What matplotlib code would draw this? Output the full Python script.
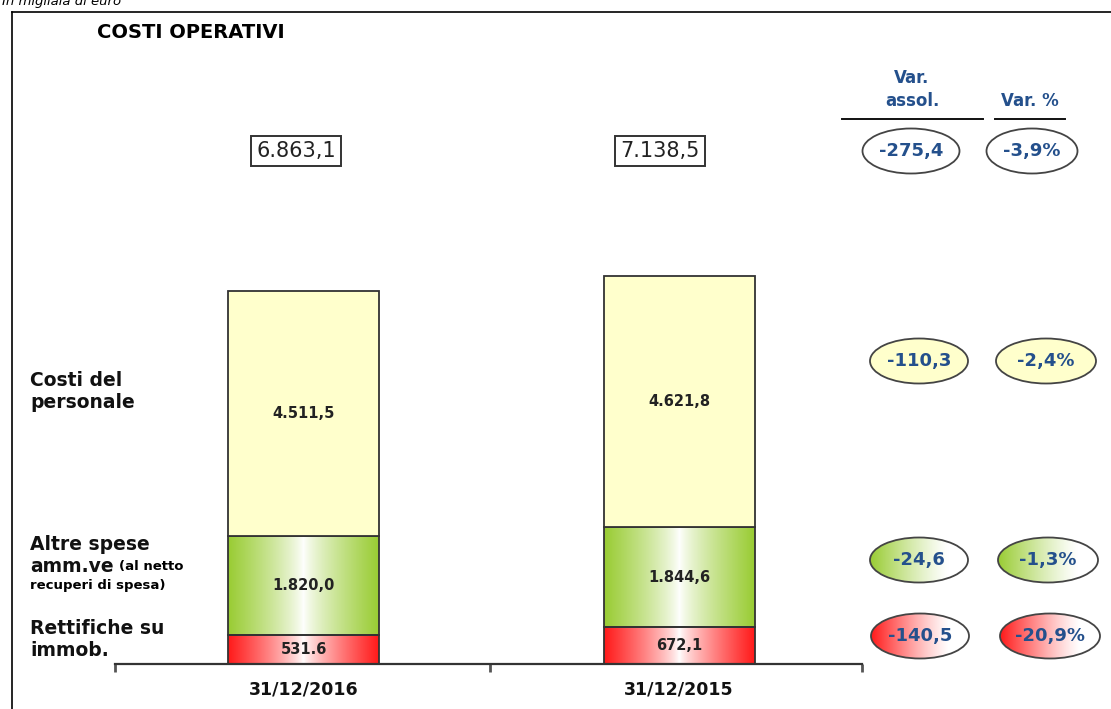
import numpy as np
import matplotlib.pyplot as plt
from matplotlib.patches import Ellipse

plt.rcParams['font.family'] = ['DejaVu Sans']

# data
periods = ['31/12/2016', '31/12/2015']
rettifiche = [531.6, 672.1]
altre_spese = [1820.0, 1844.6]
personale = [4511.5, 4621.8]
totals = ['6.863,1', '7.138,5']
rett_labels = ['531.6', '672,1']
altre_labels = ['1.820,0', '1.844,6']
pers_labels = ['4.511,5', '4.621,8']

var_assol = ['-275,4', '-110,3', '-24,6', '-140,5']
var_perc = ['-3,9%', '-2,4%', '-1,3%', '-20,9%']

navy = '#24508c'
yellow = '#ffffcc'
green = '#99cc33'
red = '#ff1a1a'

fig = plt.figure(figsize=(11.11, 7.09), dpi=100)
W, H = 1111, 709

# main bar axes
ax = fig.add_axes([115 / W, (H - 664) / H, 747 / W, 652 / H])
x = np.arange(len(periods))
bw = 0.402


def grad_fill(axis, patch, c_edge):
    x0, y0 = patch.get_x(), patch.get_y()
    w, h = patch.get_width(), patch.get_height()
    t = np.linspace(0, 1, 256)
    f = (np.abs(t - 0.5) * 2) ** 0.8
    ce = np.array(plt.matplotlib.colors.to_rgb(c_edge))
    img = (1 - f)[:, None] * np.ones(3) + f[:, None] * ce
    im = axis.imshow(img[None, :, :], extent=[x0, x0 + w, y0, y0 + h],
                     aspect='auto', zorder=2, interpolation='bilinear')
    im.set_clip_path(patch)


bars_r = ax.bar(x, rettifiche, bw, color='none', edgecolor='#333333', lw=1.3, zorder=3)
bars_g = ax.bar(x, altre_spese, bw, bottom=rettifiche, color='none',
                edgecolor='#333333', lw=1.3, zorder=3)
bottom_p = np.array(rettifiche) + np.array(altre_spese)
bars_p = ax.bar(x, personale, bw, bottom=bottom_p, color=yellow,
                edgecolor='#333333', lw=1.3, zorder=3)
for b in bars_r:
    grad_fill(ax, b, red)
for b in bars_g:
    grad_fill(ax, b, green)
ax.set_xlim(-0.502, 1.487)
ax.set_ylim(0, 11997)

for i in range(len(periods)):
    ax.text(x[i], rettifiche[i] / 2, rett_labels[i], ha='center', va='center',
            fontsize=10.5, fontweight='bold', color='#222222', zorder=4)
    ax.text(x[i], rettifiche[i] + altre_spese[i] / 2, altre_labels[i], ha='center',
            va='center', fontsize=10.5, fontweight='bold', color='#222222', zorder=4)
    ax.text(x[i], bottom_p[i] + personale[i] / 2, pers_labels[i], ha='center',
            va='center', fontsize=10.5, fontweight='bold', color='#222222', zorder=4)

for s in ['top', 'right', 'left']:
    ax.spines[s].set_visible(False)
ax.spines['bottom'].set_color('#333333')
ax.spines['bottom'].set_linewidth(1.6)
ax.set_yticks([])
ax.set_xticks(x)
ax.set_xticklabels(periods, fontsize=12.5, fontweight='bold', color='#111111')
ax.tick_params(axis='x', which='major', length=0, pad=12)
ax.set_xticks([-0.502, 0.497, 1.487], minor=True)
ax.tick_params(axis='x', which='minor', length=6, width=2, color='#555555', direction='out')
ax.patch.set_alpha(0)

# overlay axes in pixel coordinates for annotations
ov = fig.add_axes([0, 0, 1, 1], zorder=5)
ov.set_xlim(0, W)
ov.set_ylim(H, 0)
ov.axis('off')
ov.patch.set_alpha(0)

ov.plot([12, W], [12, 12], color='black', lw=1.2)
ov.plot([12, 12], [12, H], color='black', lw=1.2)
ov.text(2, 2, 'In migliaia di euro', fontsize=9.5, style='italic', va='center', ha='left')

ov.text(97, 33, 'COSTI OPERATIVI', fontsize=14, fontweight='bold', va='center', ha='left')

# totals
for cx, t in zip([296, 660], totals):
    ov.text(cx, 151, t, fontsize=15, ha='center', va='center', color='#222222',
            bbox=dict(boxstyle='square,pad=0.25', fc='white', ec='#333333', lw=1.4))

# category labels
lab_kw = dict(fontsize=13.5, fontweight='bold', va='center', ha='left', color='#111111')
ov.text(30, 380, 'Costi del', **lab_kw)
ov.text(30, 402, 'personale', **lab_kw)
ov.text(30, 545, 'Altre spese', **lab_kw)
t_amm = ov.text(30, 566, 'amm.ve', **lab_kw)
ov.annotate('(al netto', xy=(1, 0.45), xycoords=t_amm, xytext=(4, 0),
            textcoords='offset points', fontsize=9.5, fontweight='bold',
            va='center', ha='left')
ov.text(30, 586, 'recuperi di spesa)', fontsize=9.5, fontweight='bold', va='center', ha='left')
ov.text(30, 628, 'Rettifiche su', **lab_kw)
ov.text(30, 650, 'immob.', **lab_kw)

# variation headers
hd_kw = dict(fontsize=12, fontweight='bold', color=navy, ha='center', va='center')
ov.text(912, 78, 'Var.', **hd_kw)
ov.text(912, 101, 'assol.', **hd_kw)
ov.text(1030, 101, 'Var. %', **hd_kw)
ov.plot([842, 983], [119, 119], color='#111111', lw=1.4)
ov.plot([995, 1065], [119, 119], color='#111111', lw=1.4)

rows_y = [151, 361, 560, 636]
col1_x = [911, 919, 919, 920]
col2_x = [1032, 1046, 1048, 1050]
fills = ['white', yellow, green, red]


def bubble(cx, cy, w, h, txt, fill):
    e = Ellipse((cx, cy), w, h, fc=fill if fill in ('white', yellow) else 'none',
                ec='#444444', lw=1.3, zorder=6)
    ov.add_patch(e)
    if fill in (green, red):
        t = np.linspace(0, 1, 256)
        f = np.clip(1 - t / 0.8, 0, 1) ** 1.2
        ce = np.array(plt.matplotlib.colors.to_rgb(fill))
        img = (1 - f)[:, None] * np.ones(3) + f[:, None] * ce
        im = ov.imshow(img[None, :, :], extent=[cx - w / 2, cx + w / 2, cy + h / 2, cy - h / 2],
                       aspect='auto', zorder=5, interpolation='bilinear')
        im.set_clip_path(e)
    ov.text(cx, cy, txt, fontsize=13, fontweight='bold', color=navy,
            ha='center', va='center', zorder=7)


for i in range(4):
    bubble(col1_x[i], rows_y[i], 98 if i else 97, 45, var_assol[i], fills[i])
    bubble(col2_x[i], rows_y[i], 100 if i else 91, 45, var_perc[i], fills[i])

ov.set_xlim(0, W)
ov.set_ylim(H, 0)

fig.savefig('out.png', dpi=100)
